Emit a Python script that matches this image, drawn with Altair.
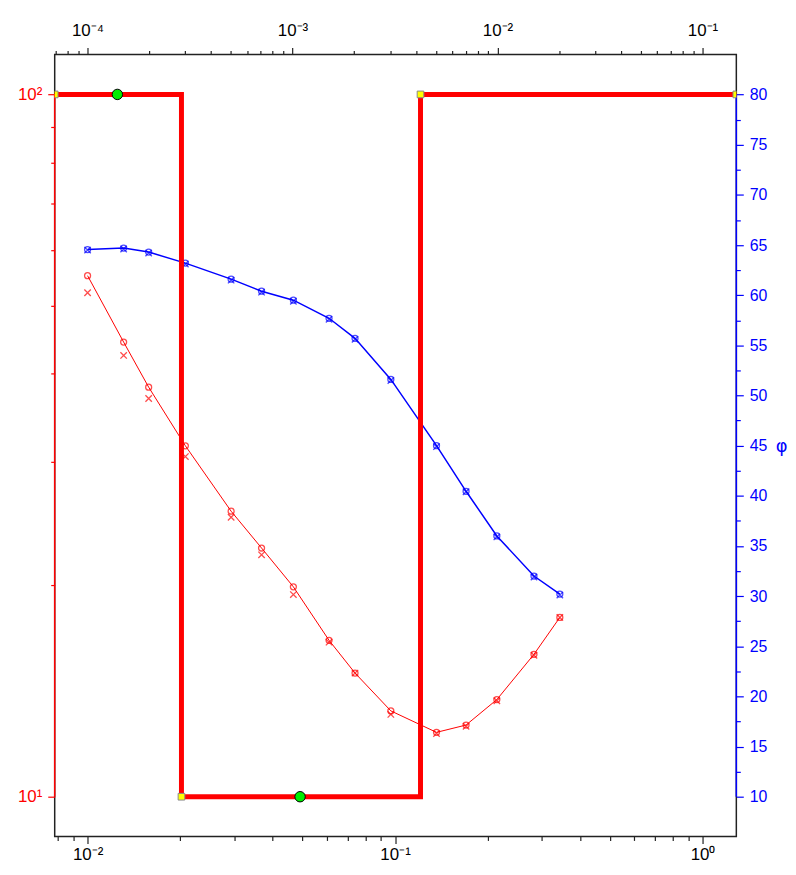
import altair as alt
import pandas as pd

# ---------------- data ----------------
freq = [0.0100, 0.0131, 0.0158, 0.0208, 0.0293, 0.0368, 0.0467, 0.0610,
        0.0741, 0.0969, 0.1364, 0.1702, 0.2143, 0.2830, 0.3435]
rho_circle = [55.2, 44.4, 38.3, 31.6, 25.5, 22.6, 19.9, 16.7,
              15.0, 13.25, 12.35, 12.65, 13.75, 15.95, 18.0]
rho_cross = [52.2, 42.5, 36.9, 30.5, 25.0, 22.1, 19.4, 16.6,
             15.0, 13.1, 12.3, 12.6, 13.7, 15.9, 18.0]
phi_circle = [64.55, 64.7, 64.3, 63.2, 61.6, 60.4, 59.5, 57.7,
              55.7, 51.6, 45.0, 40.45, 36.0, 32.0, 30.2]
phi_cross = [64.5, 64.6, 64.2, 63.1, 61.5, 60.3, 59.4, 57.6,
             55.6, 51.5, 44.9, 40.4, 35.9, 31.9, 30.1]

# layered model (step curve)
model_x = [0.007818, 0.0202, 0.0202, 0.121, 0.121, 1.288]
model_rho = [100, 100, 10, 10, 100, 100]
node_x = [0.007818, 0.0202, 0.121, 1.288]
node_rho = [100, 10, 100, 100]
mid_x = [0.0125, 0.0491]
mid_rho = [100, 10]

# axis extents
bottom_domain = [0.007818, 1.288]
top_domain = [6.918e-5, 0.1462]
left_domain = [8.779, 114.0]
right_domain = [6.04, 84.0]
left_span = [10, 100]
right_span = [10, 80]

top_dec = [(-4, "10⁻⁴"), (-3, "10⁻³"), (-2, "10⁻²"), (-1, "10⁻¹")]
bottom_dec = [(-2, "10⁻²"), (-1, "10⁻¹"), (0, "10⁰")]
left_dec = [(1, "10¹"), (2, "10²")]

RED = "#ff0000"
BLUE = "#0000ff"
W, H = 686, 787

# ---------------- helpers ----------------
LOGV = "log(datum.value)/LN10"
IS_DEC = f"abs({LOGV} - round({LOGV})) < 0.001"


def label_expr(pairs):
    s = "''"
    for e, txt in reversed(pairs):
        s = f"round({LOGV}) == {e} ? '{txt}' : {s}"
    return f"{IS_DEC} ? ({s}) : ''"


def log_ticks(lo_exp, hi_exp, lo, hi):
    vals = []
    for e in range(lo_exp, hi_exp + 1):
        for m in range(1, 10):
            v = float(f"{m}e{e}")
            if lo <= v <= hi:
                vals.append(v)
    return vals


dec_tick = {"condition": {"test": IS_DEC, "value": 7}, "value": 4}

ax_bottom = alt.Axis(orient="bottom", values=log_ticks(-3, 0, *bottom_domain),
                     labelExpr=label_expr(bottom_dec), tickSize=dec_tick,
                     tickColor="#222", labelColor="black", labelPadding=3,
                     labelFontSize=17, title=None, labelFlush=False)
ax_top = alt.Axis(orient="top", values=log_ticks(-5, -1, *top_domain),
                  labelExpr=label_expr(top_dec), tickSize=dec_tick,
                  tickColor="#222", labelColor="black", labelPadding=8,
                  labelFontSize=17, title=None, labelFlush=False)
ax_left = alt.Axis(orient="left", values=[10, 20, 30, 40, 50, 60, 70, 80, 90, 100],
                   labelExpr=label_expr(left_dec), tickSize=dec_tick,
                   tickColor=RED, labelColor=RED, labelPadding=6,
                   labelFontSize=17, title=None)
ax_right = alt.Axis(orient="right", values=[10 + 2.5 * i for i in range(29)],
                    labelExpr="datum.value % 5 == 0 ? format(datum.value, 'd') : ''",
                    tickSize={"condition": {"test": "datum.value % 5 == 0", "value": 7},
                              "value": 4},
                    tickColor=BLUE, labelColor=BLUE, labelPadding=6, labelFontSize=16,
                    title="φ", titleAngle=0, titleColor=BLUE, titleFontSize=18,
                    titleFontWeight="normal", titleX=45, titleY=395,
                    titleAlign="center", titleBaseline="middle", labelFlush=False)

xs = alt.Scale(type="log", domain=bottom_domain, nice=False)
xt = alt.Scale(type="log", domain=top_domain, nice=False)
yl = alt.Scale(type="log", domain=left_domain, nice=False)
yr = alt.Scale(type="linear", domain=right_domain, nice=False, zero=False)

X = lambda f: alt.X(f"{f}:Q", scale=xs, axis=ax_bottom)
YL = lambda f: alt.Y(f"{f}:Q", scale=yl, axis=ax_left)
YR = lambda f: alt.Y(f"{f}:Q", scale=yr, axis=ax_right)

XSHAPE = "M-1,-1L1,1M-1,1L1,-1"

curves = pd.DataFrame({"f": freq, "rc": rho_circle, "rx": rho_cross,
                       "pc": phi_circle, "px": phi_cross})
model = pd.DataFrame({"f": model_x, "r": model_rho, "i": list(range(len(model_x)))})
nodes = pd.DataFrame({"f": node_x, "r": node_rho})
mids = pd.DataFrame({"f": mid_x, "r": mid_rho})
lspan = pd.DataFrame({"f": [bottom_domain[0]], "a": [left_span[0]], "b": [left_span[1]]})
rspan = pd.DataFrame({"f": [bottom_domain[1]], "a": [right_span[0]], "b": [right_span[1]]})
topd = pd.DataFrame({"t": top_domain})

# ---------------- left-scale layer (resistivity) ----------------
red_line = alt.Chart(curves).mark_line(color=RED, strokeWidth=1).encode(x=X("f"), y=YL("rc"))
red_circ = alt.Chart(curves).mark_point(shape="circle", filled=False, color=RED,
                                        size=36, strokeWidth=1.3).encode(x=X("f"), y=YL("rc"))
red_cross = alt.Chart(curves).mark_point(shape=XSHAPE, filled=False, color=RED,
                                         size=42, strokeWidth=1.3).encode(x=X("f"), y=YL("rx"))
left_rule = alt.Chart(lspan).mark_rule(color=RED, strokeWidth=1.5).encode(
    x=X("f"), y=YL("a"), y2="b")
model_line = alt.Chart(model).mark_line(color=RED, strokeWidth=5, strokeJoin="miter").encode(
    x=X("f"), y=YL("r"), order="i:Q")
node_pts = alt.Chart(nodes).mark_point(shape="square", filled=True, fill="#ffff00",
                                       stroke="#888888", strokeWidth=1, size=45,
                                       opacity=1, clip=True).encode(x=X("f"), y=YL("r"))
mid_pts = alt.Chart(mids).mark_point(shape="circle", filled=True, fill="#00ee00",
                                     stroke="black", strokeWidth=1, size=110,
                                     opacity=1).encode(x=X("f"), y=YL("r"))

left_layer = alt.layer(left_rule, red_line, red_circ, red_cross, model_line, node_pts, mid_pts)

# ---------------- right-scale layer (phase) ----------------
blue_line = alt.Chart(curves).mark_line(color=BLUE, strokeWidth=1.5).encode(x=X("f"), y=YR("pc"))
blue_circ = alt.Chart(curves).mark_point(shape="circle", filled=False, color=BLUE,
                                         size=36, strokeWidth=1.3).encode(x=X("f"), y=YR("pc"))
blue_cross = alt.Chart(curves).mark_point(shape=XSHAPE, filled=False, color=BLUE,
                                          size=42, strokeWidth=1.3).encode(x=X("f"), y=YR("px"))
right_rule = alt.Chart(rspan).mark_rule(color=BLUE, strokeWidth=1.5).encode(
    x=X("f"), y=YR("a"), y2="b")

right_layer = alt.layer(right_rule, blue_line, blue_circ, blue_cross)

inner = alt.layer(right_layer, left_layer).resolve_scale(y="independent")

top_layer = alt.Chart(topd).mark_point(opacity=0).encode(
    x=alt.X("t:Q", scale=xt, axis=ax_top))

chart = alt.layer(inner, top_layer).resolve_scale(x="independent").properties(
    width=W, height=H,
    autosize=alt.AutoSizeParams(type="none"),
    padding={"left": 47, "top": 44, "right": 52, "bottom": 28},
    background="white",
).configure_view(stroke="#222222", strokeWidth=1.5).configure_axis(
    grid=False, domain=False, labelFont="Arial",
    titleFont="DejaVu Sans", tickWidth=1.2,
)

chart.save("out.html", embed_options={"renderer": "svg", "actions": False})
